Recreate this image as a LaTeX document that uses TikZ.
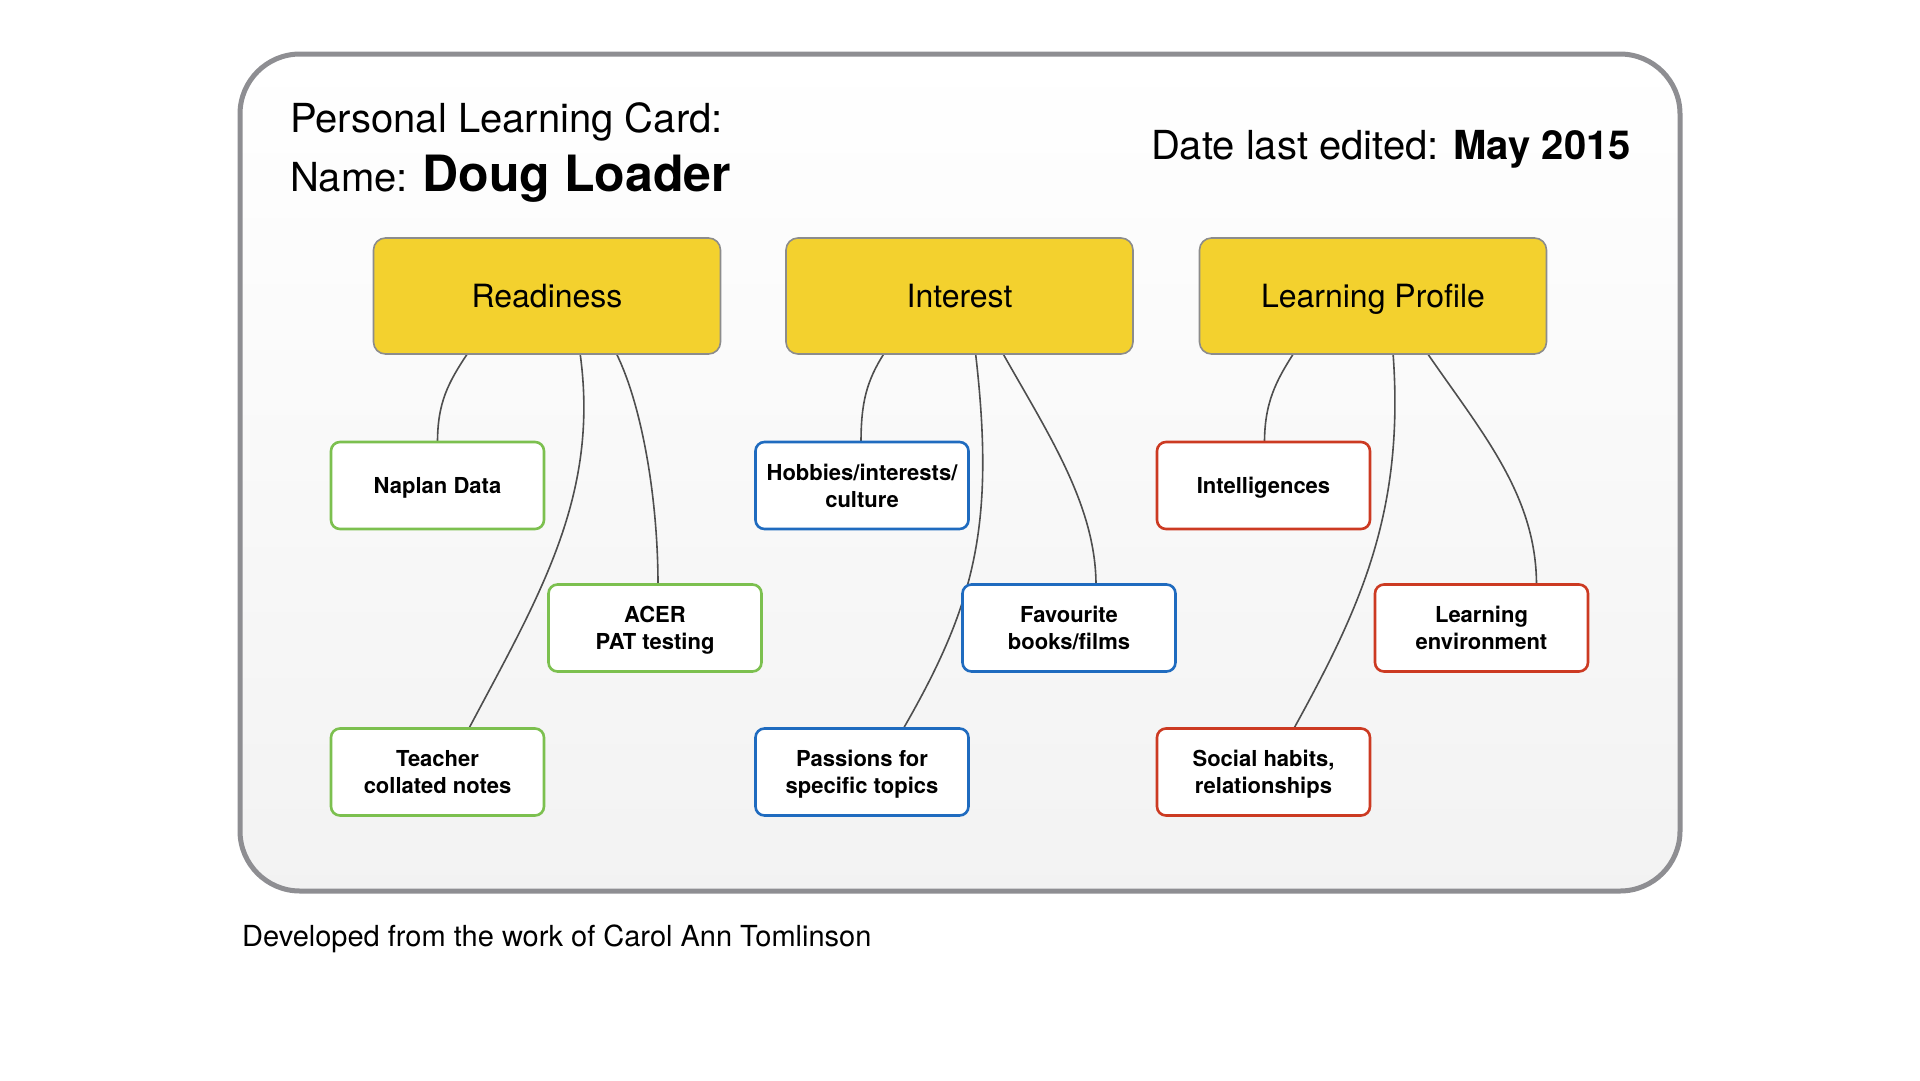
\documentclass[tikz,border=0pt]{standalone}
\usepackage{fontspec}
\setmainfont{TeX Gyre Heros}
\usepackage{tikz}
\usetikzlibrary{calc}

\definecolor{cardgray}{HTML}{8E8E92}
\definecolor{topicyellow}{HTML}{F3D12E}
\definecolor{topicedge}{HTML}{8C8C8C}
\definecolor{linkgray}{HTML}{4E4E4E}
\definecolor{readygreen}{HTML}{7CC04F}
\definecolor{interblue}{HTML}{1F6BBF}
\definecolor{profred}{HTML}{CC3A22}

\pgfdeclarelayer{background}
\pgfdeclarelayer{links}
\pgfsetlayers{background,links,main}

\begin{document}
\begin{tikzpicture}[
    x=1pt, y=-1pt,
    topic/.style={draw=topicedge, line width=1.6pt, fill=topicyellow, rounded corners=12pt,
      minimum width=347pt, minimum height=116pt, text depth=0pt, font=\fontsize{32}{38}\selectfont},
    leaf/.style={line width=2.6pt, fill=white, rounded corners=9pt, minimum width=213pt,
      minimum height=87pt, align=center, text depth=0pt, font=\bfseries\fontsize{22}{27}\selectfont},
    link/.style={draw=linkgray, line width=1.6pt},
    headtext/.style={inner sep=0pt, font=\fontsize{40}{48}\selectfont}
  ]
    \useasboundingbox (0,0) rectangle (1920,1080);

    % card
    \begin{pgfonlayer}{background}
      \shade[top color=white, bottom color=black!5, rounded corners=60pt] (240,54) rectangle (1680,891);
      \draw[cardgray, line width=5pt, rounded corners=60pt] (240,54) rectangle (1680,891);
    \end{pgfonlayer}

    % headings
    \node[headtext, anchor=base west] (title) at (290,132) {Personal Learning Card:};
    \node[headtext, anchor=base west] (name) at (290,191)
      {Name: {\bfseries\fontsize{50}{60}\selectfont Doug Loader}};
    \node[headtext, anchor=base east] (date) at (1631,159)
      {Date last edited: {\bfseries May 2015}};
    \node[inner sep=0pt, anchor=base west, font=\fontsize{29}{35}\selectfont] (credit) at (242,946)
      {Developed from the work of Carol Ann Tomlinson};

    % topics
    \node[topic] (ready) at (547,296) {Readiness};
    \node[topic] (inter) at (959.5,296) {Interest};
    \node[topic] (prof) at (1373,296) {Learning Profile};

    % leaves
    \node[leaf, draw=readygreen] (naplan) at (437.5,485.5) {Naplan Data};
    \node[leaf, draw=readygreen] (acer) at (655,628) {ACER\\PAT testing};
    \node[leaf, draw=readygreen] (teacher) at (437.5,772) {Teacher\\collated notes};
    \node[leaf, draw=interblue] (hobby) at (862,485.5) {Hobbies/interests/\\culture};
    \node[leaf, draw=interblue] (fav) at (1069,628) {Favourite\\books/films};
    \node[leaf, draw=interblue] (passion) at (862,772) {Passions for\\specific topics};
    \node[leaf, draw=profred] (intel) at (1263.5,485.5) {Intelligences};
    \node[leaf, draw=profred] (env) at (1481.5,628) {Learning\\environment};
    \node[leaf, draw=profred] (social) at (1263.5,772) {Social habits,\\relationships};

    % links
    \begin{pgfonlayer}{links}
      \foreach \from/\sx/\to/\ex/\ca/\cb in {
          ready/-79/naplan/0/{-20,30}/{0,-40},
          ready/69/acer/3/{25,50}/{0,-90},
          ready/33/teacher/31/{20,143}/{71,-134},
          inter/-75/hobby/-1/{-18,28}/{0,-40},
          inter/43/fav/27/{45,80}/{0,-80},
          inter/16/passion/41/{20,173}/{72,-125},
          prof/-79/intel/1/{-18,28}/{0,-40},
          prof/54/env/55/{55,80}/{0,-90},
          prof/20/social/30/{12,160}/{66,-120}} {
        \draw[link] ($(\from.south)+(\sx,-2)$) .. controls +(\ca) and +(\cb) .. ($(\to.north)+(\ex,2)$);
      }
    \end{pgfonlayer}
  \end{tikzpicture}
\end{document}
